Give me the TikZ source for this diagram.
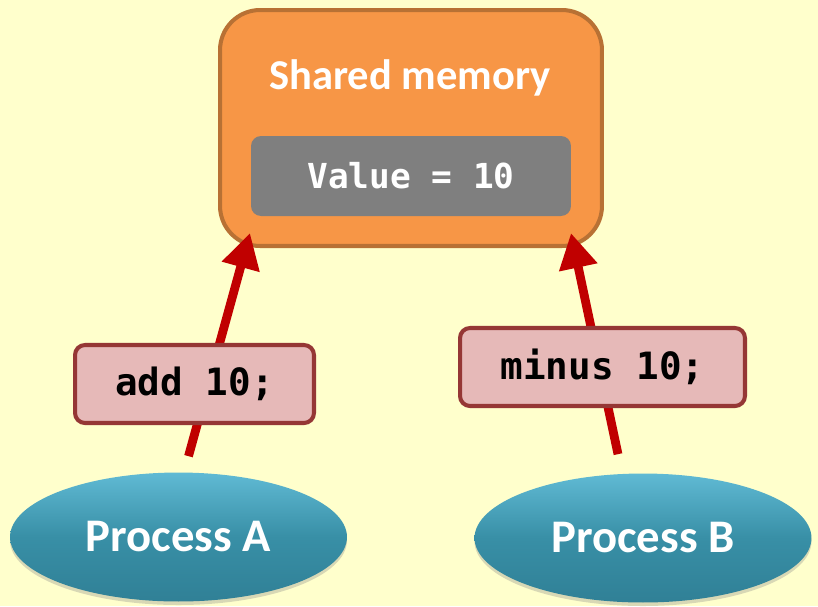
\documentclass[tikz,border=0pt]{standalone}
\usepackage{fontspec}
\setsansfont{Carlito}
\setmonofont{DejaVu Sans Mono}
\usetikzlibrary{positioning,arrows.meta,shapes.geometric,shadows}
\definecolor{bgYellow}{RGB}{255,255,204}
\definecolor{memOrange}{RGB}{247,150,70}
\definecolor{memBorder}{RGB}{184,113,52}
\definecolor{valGray}{RGB}{127,127,127}
\definecolor{opPink}{RGB}{230,185,184}
\definecolor{opBorder}{RGB}{149,55,53}
\definecolor{procTeal}{RGB}{56,143,166}
\definecolor{procLight}{RGB}{96,186,212}
\definecolor{procDark}{RGB}{48,128,150}
\definecolor{flowRed}{RGB}{192,0,0}

\tikzset{
  membox/.style={draw=memBorder, line width=2.3pt, fill=memOrange, rounded corners=0.8cm,
    minimum width=7.64cm, minimum height=4.72cm, inner sep=0pt},
  memtitle/.style={text=white, font=\sffamily\bfseries\fontsize{24.2}{28}\selectfont, inner sep=0pt},
  valbox/.style={fill=valGray, rounded corners=0.2cm, minimum width=6.4cm, minimum height=1.6cm,
    text=white, font=\ttfamily\bfseries\fontsize{19.6}{23}\selectfont, inner sep=0pt},
  opbox/.style={draw=opBorder, line width=2.3pt, fill=opPink, rounded corners=0.2cm,
    minimum height=1.56cm, inner sep=0pt, font=\ttfamily\bfseries\fontsize{21.4}{25}\selectfont},
  proc/.style={ellipse, inner sep=0pt, minimum width=6.74cm, minimum height=2.58cm,
    top color=procLight, bottom color=procDark, middle color=procTeal,
    drop shadow={opacity=0.3, shadow xshift=0pt, shadow yshift=-2pt},
    text=white, font=\sffamily\bfseries\fontsize{26.6}{30}\selectfont},
  flow/.style={draw=flowRed, line width=5pt, -{Triangle[length=20pt,width=21pt]}}
}

\begin{document}
\begin{tikzpicture}[x=0.02cm, y=-0.02cm]
  % Background
  \fill[bgYellow] (0,0) rectangle (818,606);
  \useasboundingbox (0,0) rectangle (818,606);

  % Shared memory block
  \node[membox] (mem) at (411,128) {};
  \node[memtitle] (memtitle) at (410,78) {Shared memory};
  \node[valbox] (val) at (411,176) {Value = 10};

  % Processes
  \node[proc] (procA) at (178.5,537) {Process A};
  \node[proc] (procB) at (643,538) {Process B};

  % Accesses
  \draw[flow] ([shift={(10,-16)}]procA.north) -- ([shift={(32,-15)}]mem.south west);
  \draw[flow] ([shift={(-25,-19)}]procB.north) -- ([shift={(-33,-15)}]mem.south east);

  % Operations
  \node[opbox, minimum width=4.78cm] (opA) at (194.5,384) {add 10;};
  \node[opbox, minimum width=5.7cm] (opB) at (602.5,367) {minus 10;};
\end{tikzpicture}
\end{document}
